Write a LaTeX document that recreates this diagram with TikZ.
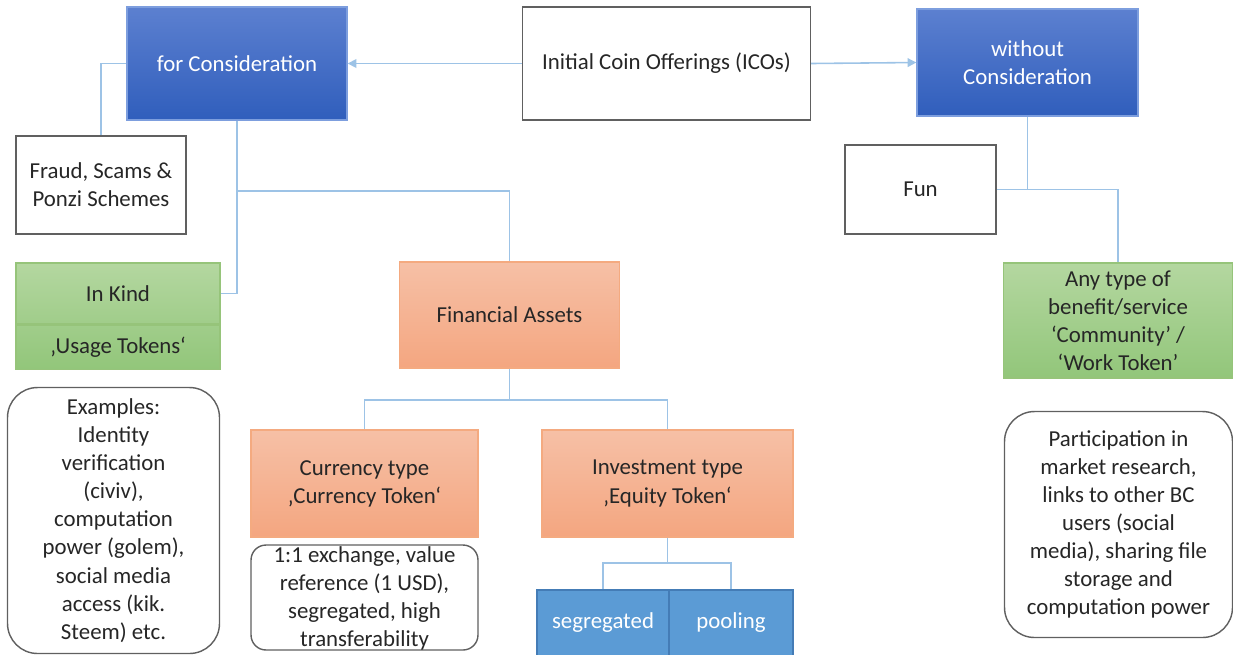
\documentclass[tikz,border=0pt]{standalone}
\usepackage{fontspec}
\setmainfont{Carlito}
\usetikzlibrary{arrows.meta}

\definecolor{consblue}{RGB}{60,104,196}
\definecolor{consline}{RGB}{125,158,222}
\definecolor{assetline}{RGB}{244,170,128}
\definecolor{kindline}{RGB}{150,196,122}
\definecolor{poolblue}{RGB}{91,155,213}
\definecolor{poolline}{RGB}{68,124,182}
\definecolor{linkblue}{RGB}{157,195,230}
\definecolor{boxgray}{RGB}{96,96,96}
\definecolor{textgray}{RGB}{38,38,38}

\tikzset{
  consbox/.style={draw=consline,line width=0.8pt,top color={rgb,255:red,92;green,128;blue,208},
    bottom color={rgb,255:red,48;green,94;blue,188},text=white,align=center},
  plainbox/.style={draw=boxgray,line width=0.8pt,fill=white,text=textgray,align=center},
  kindbox/.style={draw=kindline,line width=0.8pt,text=textgray,align=center,inner sep=1pt},
  assetbox/.style={draw=assetline,line width=0.8pt,top color={rgb,255:red,246;green,192;blue,166},
    bottom color={rgb,255:red,244;green,166;blue,128},text=textgray,align=center},
  notebox/.style={draw=boxgray,line width=0.8pt,fill=white,text=textgray,align=center,inner sep=1pt},
  poolbox/.style={draw=poolline,line width=0.8pt,fill=poolblue,text=white,align=center},
  link/.style={draw=linkblue,line width=0.9pt}
}

\begin{document}
\begin{tikzpicture}[x=0.02cm,y=-0.02cm,font=\fontsize{13}{16}\selectfont]
  \useasboundingbox (0,0) rectangle (1233,654);

  % top row
  \node[plainbox,minimum width=5.76cm,minimum height=2.26cm] (ico) at (666.5,63.5) {Initial Coin Offerings (ICOs)};
  \node[consbox,minimum width=4.4cm,minimum height=2.26cm] (forcons) at (237,63.5) {for Consideration};
  \node[consbox,minimum width=4.42cm,minimum height=2.14cm] (withoutcons) at (1027.5,62.5) {without\\Consideration};

  % for consideration side
  \node[plainbox,minimum width=3.4cm,minimum height=1.96cm] (fraud) at (101,185) {Fraud, Scams \&\\Ponzi Schemes};
  \node[kindbox,minimum width=4.08cm,minimum height=1.22cm,top color={rgb,255:red,180;green,215;blue,160},
    bottom color={rgb,255:red,160;green,205;blue,138}] (inkind) at (118,293.5) {In Kind};
  \node[kindbox,minimum width=4.08cm,minimum height=0.88cm,top color={rgb,255:red,160;green,205;blue,138},
    bottom color={rgb,255:red,146;green,198;blue,122},anchor=north] (usage) at (inkind.south) {‚Usage Tokens‘};
  \node[notebox,rounded corners=0.6cm,minimum width=4.24cm,minimum height=5.32cm] (examples) at (113.5,520.5)
    {Examples:\\Identity\\verification\\(civiv),\\computation\\power (golem),\\social media\\access (kik.\\Steem) etc.};

  % financial assets
  \node[assetbox,minimum width=4.4cm,minimum height=2.12cm] (finassets) at (509.5,315) {Financial Assets};
  \node[assetbox,minimum width=4.54cm,minimum height=2.14cm] (currency) at (364.5,483.5) {Currency type\\‚Currency Token‘};
  \node[assetbox,minimum width=5.02cm,minimum height=2.14cm] (investment) at (667.5,483.5) {Investment type\\‚Equity Token‘};
  \node[notebox,rounded corners=0.3cm,minimum width=4.54cm,minimum height=2.1cm] (exchange) at (364.5,597.5) {};
  \node[text=textgray,align=center,inner sep=0pt] (exchangetext) at (364.5,598.5)
    {1:1 exchange, value\\reference (1 USD),\\segregated, high\\transferability};
  \node[poolbox,minimum width=2.64cm,minimum height=1.32cm] (segregated) at (603,623) {segregated};
  \node[poolbox,minimum width=2.48cm,minimum height=1.32cm] (pooling) at (731,623) {pooling};

  % without consideration side
  \node[plainbox,minimum width=3.02cm,minimum height=1.78cm] (fun) at (920.5,189.5) {Fun};
  \node[kindbox,minimum width=4.58cm,minimum height=2.3cm,top color={rgb,255:red,180;green,215;blue,160},
    bottom color={rgb,255:red,146;green,198;blue,122}] (anytype) at (1118,320.5)
    {Any type of\\benefit/service\\‘Community’ /\\‘Work Token’};
  \node[notebox,rounded corners=0.6cm,minimum width=4.56cm,minimum height=4.52cm] (participation) at (1118.5,524.5)
    {Participation in\\market research,\\links to other BC\\users (social\\media), sharing file\\storage and\\computation power};

  % connectors
  \coordinate (fcbranch) at (237,191);
  \coordinate (wcbranch) at (1027.5,189.5);
  \coordinate (fabranch) at (509.5,400);
  \coordinate (ivbranch) at (667.5,563);
  \draw[link,-{Triangle[length=5pt,width=5pt]}] (ico.west) -- (forcons.east);
  \draw[link,-{Triangle[length=5pt,width=5pt]}] (ico.east) -- (withoutcons.west);
  \draw[link] (forcons.west) -| (fraud.north);
  \draw[link] (forcons.south) |- (inkind.east);
  \draw[link] (fcbranch) -| (finassets.north);
  \draw[link] (withoutcons.south) |- (fun.east);
  \draw[link] (wcbranch) -| (anytype.north);
  \draw[link] (finassets.south) -- (fabranch) -| (currency.north);
  \draw[link] (fabranch) -| (investment.north);
  \draw[link] (investment.south) -- (ivbranch) -| (segregated.north);
  \draw[link] (ivbranch) -| (pooling.north);
\end{tikzpicture}
\end{document}
